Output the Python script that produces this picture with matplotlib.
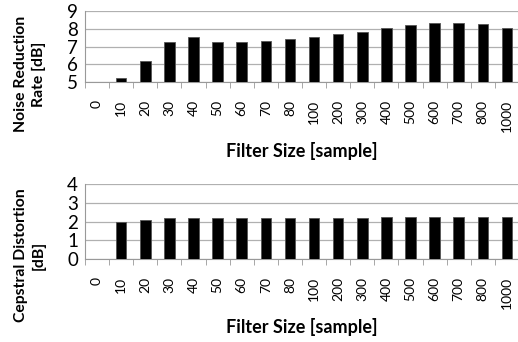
import matplotlib.pyplot as plt
import numpy as np

# filter sizes (categories) and measured values
filter_sizes = ["0", "10", "20", "30", "40", "50", "60", "70", "80",
                "100", "200", "300", "400", "500", "600", "700", "800", "1000"]
noise_reduction = [5.02, 5.25, 6.17, 7.23, 7.56, 7.28, 7.28, 7.33, 7.4,
                   7.52, 7.7, 7.8, 8.02, 8.2, 8.3, 8.3, 8.25, 8.02]
cepstral_dist = [0.0, 1.97, 2.07, 2.17, 2.2, 2.2, 2.2, 2.2, 2.2,
                 2.2, 2.2, 2.19, 2.25, 2.25, 2.24, 2.24, 2.24, 2.24]

plt.rcParams['font.family'] = ['Lato', 'DejaVu Sans']

fig = plt.figure(figsize=(5.18, 3.42), dpi=100)
ax1 = fig.add_axes([0.164, 0.760, 0.838, 0.208])
ax2 = fig.add_axes([0.164, 0.242, 0.838, 0.220])

x = np.arange(len(filter_sizes))


def style(ax, vals, ylim, yticks, ylabel, ylab_y, xlab_y):
    ax.bar(x, [v - ylim[0] for v in vals], bottom=ylim[0], width=0.44,
           color="black", edgecolor="#555555", linewidth=0.6, zorder=3)
    ax.set_xlim(-0.5, len(x) - 0.5)
    ax.set_ylim(*ylim)
    ax.set_yticks(yticks)
    ax.tick_params(axis="y", length=0, labelsize=13.5, pad=5)
    ax.set_xticks(x)
    ax.set_xticklabels(filter_sizes, rotation=90, fontsize=10)
    ax.tick_params(axis="x", which="major", length=0, pad=13)
    ax.set_xticks(np.arange(-0.5, len(x)), minor=True)
    ax.tick_params(axis="x", which="minor", length=4, color="#999999")
    ax.grid(axis="y", color="#b0b0b0", linewidth=0.9, zorder=0)
    for s in ["top", "right"]:
        ax.spines[s].set_visible(False)
    ax.spines["left"].set_color("#999999")
    ax.spines["bottom"].set_color("#999999")
    ax.set_ylabel(ylabel, fontsize=11.3, fontweight="bold", linespacing=1.3)
    ax.yaxis.set_label_coords(-0.09, ylab_y)
    ax.set_xlabel("Filter Size [sample]", fontsize=13, fontweight="bold",
                  va="center")
    ax.xaxis.set_label_coords(0.5, xlab_y)


style(ax1, noise_reduction, (5, 9), [5, 6, 7, 8, 9],
      "Noise Reduction\nRate [dB]", 0.113, -0.97)
style(ax2, cepstral_dist, (0, 4), [0, 1, 2, 3, 4],
      "Cepstral Distortion\n[dB]", 0.057, -0.90)

fig.savefig("out.png", dpi=100)
